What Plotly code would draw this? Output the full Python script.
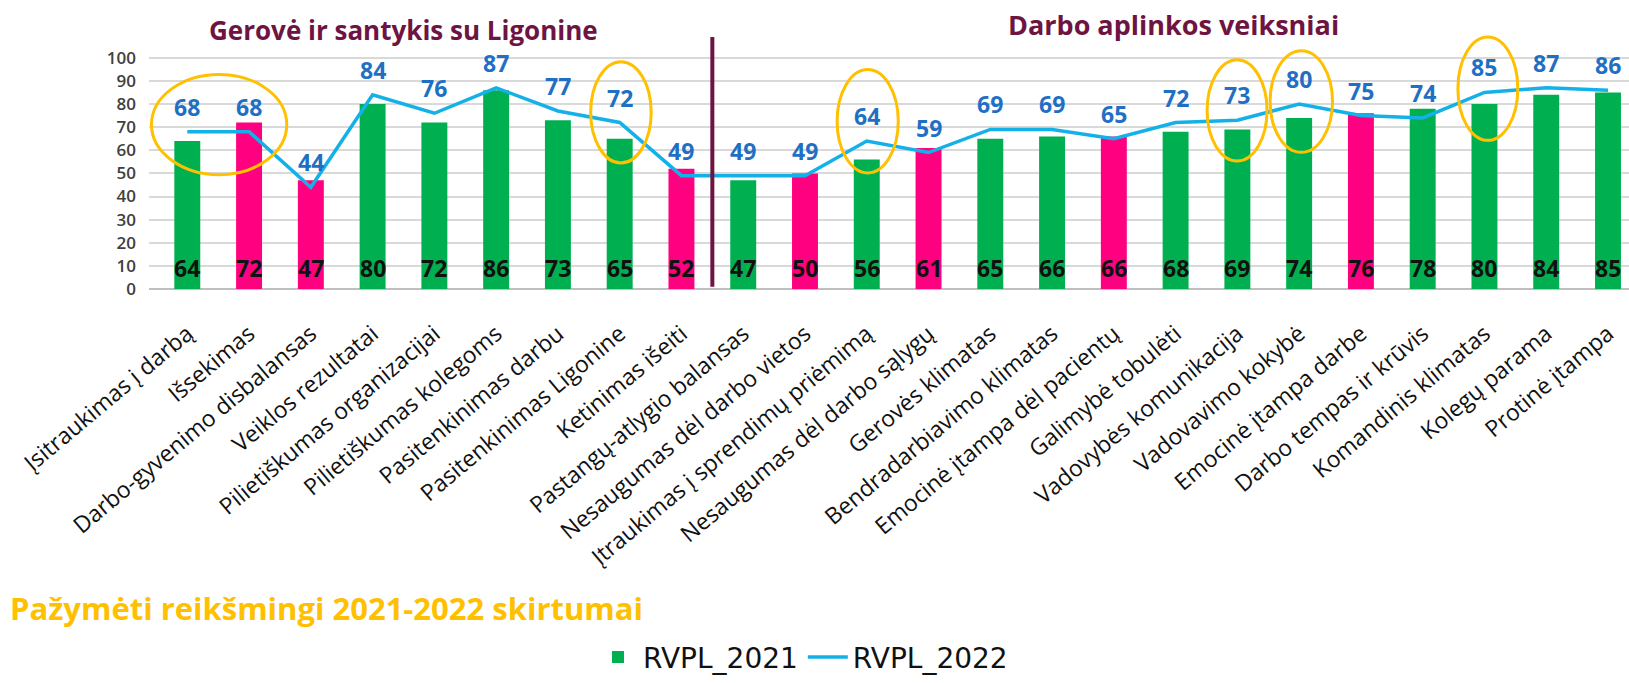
import plotly.graph_objects as go

categories = [
    "Įsitraukimas į darbą", "Išsekimas", "Darbo-gyvenimo disbalansas", "Veiklos rezultatai",
    "Pilietiškumas organizacijai", "Pilietiškumas kolegoms", "Pasitenkinimas darbu",
    "Pasitenkinimas Ligonine", "Ketinimas išeiti", "Pastangų-atlygio balansas",
    "Nesaugumas dėl darbo vietos", "Įtraukimas į sprendimų priėmimą", "Nesaugumas dėl darbo sąlygų",
    "Gerovės klimatas", "Bendradarbiavimo klimatas", "Emocinė įtampa dėl pacientų",
    "Galimybė tobulėti", "Vadovybės komunikacija", "Vadovavimo kokybė", "Emocinė įtampa darbe",
    "Darbo tempas ir krūvis", "Komandinis klimatas", "Kolegų parama", "Protinė įtampa",
]
rvpl_2021 = [64, 72, 47, 80, 72, 86, 73, 65, 52, 47, 50, 56, 61, 65, 66, 66, 68, 69, 74, 76, 78, 80, 84, 85]
rvpl_2022 = [68, 68, 44, 84, 76, 87, 77, 72, 49, 49, 49, 64, 59, 69, 69, 65, 72, 73, 80, 75, 74, 85, 87, 86]
# negative factors (drawn in pink)
negative = [False, True, True, False, False, False, False, False, True, False, True, False, True,
            False, False, True, False, False, False, True, False, False, False, False]
# categories with significant 2021-2022 difference (ringed)
highlight_groups = [(0, 1), (7, 7), (11, 11), (17, 17), (18, 18), (21, 21)]
section_titles = ["Gerovė ir santykis su Ligonine", "Darbo aplinkos veiksniai"]
y_ticks = list(range(0, 101, 10))

GREEN = "#00B050"
PINK = "#FF0080"
LINE = "#14B1E8"
LABEL_BLUE = "#1F6FC4"
MAROON = "#6E1442"
ORANGE = "#FFC000"
FONT = "Open Sans"

x_idx = list(range(len(categories)))
bar_colors = [PINK if n else GREEN for n in negative]

fig = go.Figure()
fig.add_trace(go.Bar(
    x=x_idx, y=rvpl_2021, name="RVPL_2021", marker=dict(color=bar_colors, line=dict(width=0)),
    width=0.42,
))
fig.add_trace(go.Scatter(
    x=x_idx, y=rvpl_2022, name="RVPL_2022", mode="lines",
    line=dict(color=LINE, width=3.5),
))

annotations = []
for i, v in enumerate(rvpl_2021):
    annotations.append(dict(x=i, y=0, xref="x", yref="y", text=str(v), showarrow=False,
                            yshift=21, font=dict(family=FONT, size=23, color="#111111", weight=700)))
for i, v in enumerate(rvpl_2022):
    annotations.append(dict(x=i, y=v, xref="x", yref="y", text=str(v), showarrow=False,
                            yshift=25, font=dict(family=FONT, size=23, color=LABEL_BLUE, weight=700)))

annotations.append(dict(x=0.172, y=1.0, xref="paper", yref="paper", text=section_titles[0],
                        showarrow=False, xanchor="center", yanchor="middle",
                        font=dict(family=FONT, size=26, color=MAROON, weight=700)))
annotations.append(dict(x=0.692, y=1.021, xref="paper", yref="paper", text=section_titles[1],
                        showarrow=False, xanchor="center", yanchor="middle",
                        font=dict(family=FONT, size=27, color=MAROON, weight=700)))
annotations.append(dict(x=-0.095, y=-1.232, xref="paper", yref="paper",
                        text="Pažymėti reikšmingi 2021-2022 skirtumai",
                        showarrow=False, xanchor="left", yanchor="middle",
                        font=dict(family=FONT, size=31, color=ORANGE, weight=700)))

shapes = []
# section divider
shapes.append(dict(type="line", xref="x", yref="y", x0=8.5, x1=8.5, y0=1, y1=109,
                   line=dict(color=MAROON, width=4)))
# ellipses around significant differences
ellipse_extents = {
    (0, 1): (-0.58, 1.61, 49.4, 92.8),
    (7, 7): (6.53, 7.51, 54.5, 98.3),
    (11, 11): (10.52, 11.51, 50.2, 94.9),
    (17, 17): (16.51, 17.48, 55.3, 99.1),
    (18, 18): (17.53, 18.54, 59.1, 103.0),
    (21, 21): (20.57, 21.54, 64.3, 109.0),
}
for g in highlight_groups:
    x0, x1, y0, y1 = ellipse_extents[g]
    shapes.append(dict(type="circle", xref="x", yref="y", x0=x0, x1=x1, y0=y0, y1=y1,
                       line=dict(color=ORANGE, width=3)))

fig.update_layout(
    width=1629, height=683,
    margin=dict(l=149, r=0, t=30, b=390),
    paper_bgcolor="white", plot_bgcolor="white",
    showlegend=True,
    legend=dict(orientation="h", x=0.30, y=-1.422, xanchor="left", yanchor="middle",
                font=dict(family="DejaVu Sans", size=28, color="#111111"), itemwidth=40,
                bgcolor="rgba(0,0,0,0)"),
    annotations=annotations,
    shapes=shapes,
    bargap=0.58,
)
fig.update_xaxes(
    range=[-0.62, 23.34], tickmode="array", tickvals=x_idx, ticktext=categories,
    tickangle=-40, tickfont=dict(family=FONT, size=23, color="#111111"),
    showgrid=False, zeroline=False, showline=False, ticks="", ticklabelstandoff=26,
)
fig.update_yaxes(
    range=[0, 112], tickmode="array", tickvals=y_ticks,
    tickfont=dict(family=FONT, size=17, color="#404040", weight=600),
    showgrid=True, gridcolor="#D9D9D9", gridwidth=1.5,
    zeroline=True, zerolinecolor="#BFBFBF", zerolinewidth=2,
    showline=False, ticks="", ticklabelstandoff=12,
)

fig.write_html(
    "out.html",
    config={"displayModeBar": False},
    post_script="document.body.style.margin='0';document.body.style.overflow='hidden';",
)
